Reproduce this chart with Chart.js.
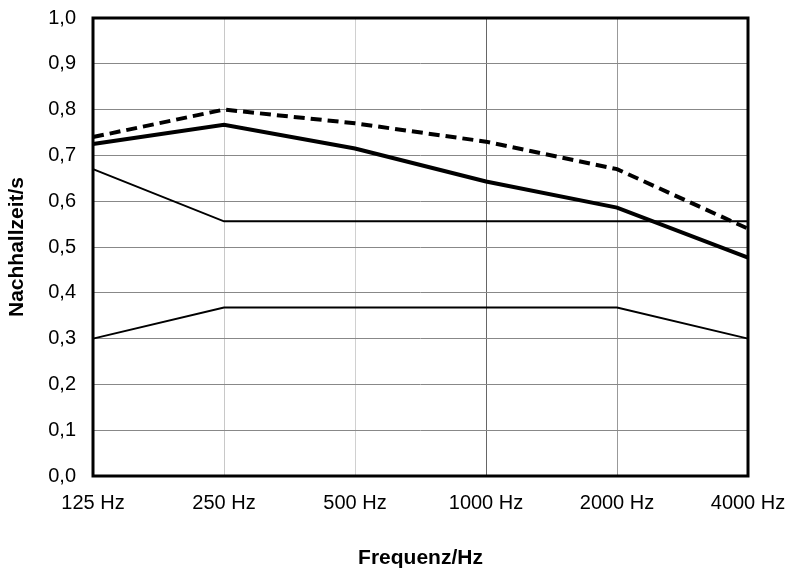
<!DOCTYPE html>
<html>
<head>
<meta charset="utf-8">
<script src="https://cdn.jsdelivr.net/npm/chart.js@4/dist/chart.umd.min.js"></script>
<style>
  html, body { margin: 0; padding: 0; background: #fff; }
  #wrap { width: 798px; height: 577px; }
</style>
</head>
<body>
<div id="wrap"><canvas id="c" width="798" height="577"></canvas></div>
<script>
// Frequency bands
const frequencies = ['125 Hz', '250 Hz', '500 Hz', '1000 Hz', '2000 Hz', '4000 Hz'];

// Reverberation times in seconds
const measuredA = [0.74, 0.80, 0.77, 0.73, 0.67, 0.54];       // dashed
const measuredB = [0.725, 0.767, 0.715, 0.643, 0.586, 0.477]; // thick solid
const upperLimit = [0.67, 0.556, 0.556, 0.556, 0.556, 0.556];
const lowerLimit = [0.30, 0.368, 0.368, 0.368, 0.368, 0.30];

// Y tick values
const yTicks = [0, 0.1, 0.2, 0.3, 0.4, 0.5, 0.6, 0.7, 0.8, 0.9, 1.0];

const FONT = "'Liberation Sans', Arial, sans-serif";

// Black frame around the plot area
const framePlugin = {
  id: 'frame',
  afterDatasetsDraw(chart) {
    const { ctx, chartArea: a } = chart;
    ctx.save();
    ctx.strokeStyle = '#000';
    ctx.lineWidth = 3;
    ctx.strokeRect(a.left, a.top, a.right - a.left, a.bottom - a.top);
    ctx.restore();
  }
};

// Fixed axis sizes so the plot area sits at a set place
function fixSize(prop, size) {
  return (axis) => {
    axis[prop] = size;
    axis.paddingTop = 0;
    axis.paddingBottom = 0;
    axis.paddingLeft = 0;
    axis.paddingRight = 0;
  };
}

const vGridColors = ['#000', '#c8c8c8', '#d0d0d0', '#666', '#999', '#000'];

new Chart(document.getElementById('c'), {
  type: 'line',
  data: {
    labels: frequencies,
    datasets: [
      { data: measuredA, borderColor: '#000', borderWidth: 4, borderDash: [11, 6] },
      { data: measuredB, borderColor: '#000', borderWidth: 4 },
      { data: upperLimit, borderColor: '#000', borderWidth: 2 },
      { data: lowerLimit, borderColor: '#000', borderWidth: 2 }
    ]
  },
  plugins: [framePlugin],
  options: {
    responsive: false,
    animation: false,
    devicePixelRatio: 1,
    layout: { padding: { top: 18, right: 50, left: 5, bottom: 6 } },
    elements: { point: { radius: 0 }, line: { tension: 0 } },
    plugins: { legend: { display: false }, tooltip: { enabled: false } },
    scales: {
      x: {
        offset: false,
        afterFit: fixSize('height', 95),
        grid: {
          color: (c) => vGridColors[c.index] || '#999',
          lineWidth: 1,
          drawTicks: false
        },
        border: { display: false },
        ticks: {
          color: '#000',
          font: { family: FONT, size: 20 },
          padding: 15,
          maxRotation: 0,
          autoSkip: false
        },
        title: {
          display: true,
          text: 'Frequenz/Hz',
          color: '#000',
          font: { family: FONT, size: 21, weight: 'bold' },
          padding: { top: 28, bottom: 0 }
        }
      },
      y: {
        min: 0,
        max: 1,
        afterFit: fixSize('width', 88),
        afterBuildTicks: (axis) => { axis.ticks = yTicks.map(v => ({ value: v })); },
        grid: { color: '#888', lineWidth: 1, drawTicks: false },
        border: { display: false },
        ticks: {
          color: '#000',
          font: { family: FONT, size: 20 },
          padding: 17,
          callback: (v) => v.toFixed(1).replace('.', ',')
        },
        title: {
          display: true,
          text: 'Nachhallzeit/s',
          color: '#000',
          font: { family: FONT, size: 21, weight: 'bold' },
          padding: { top: 0, bottom: 16 }
        }
      }
    }
  }
});
</script>
</body>
</html>
